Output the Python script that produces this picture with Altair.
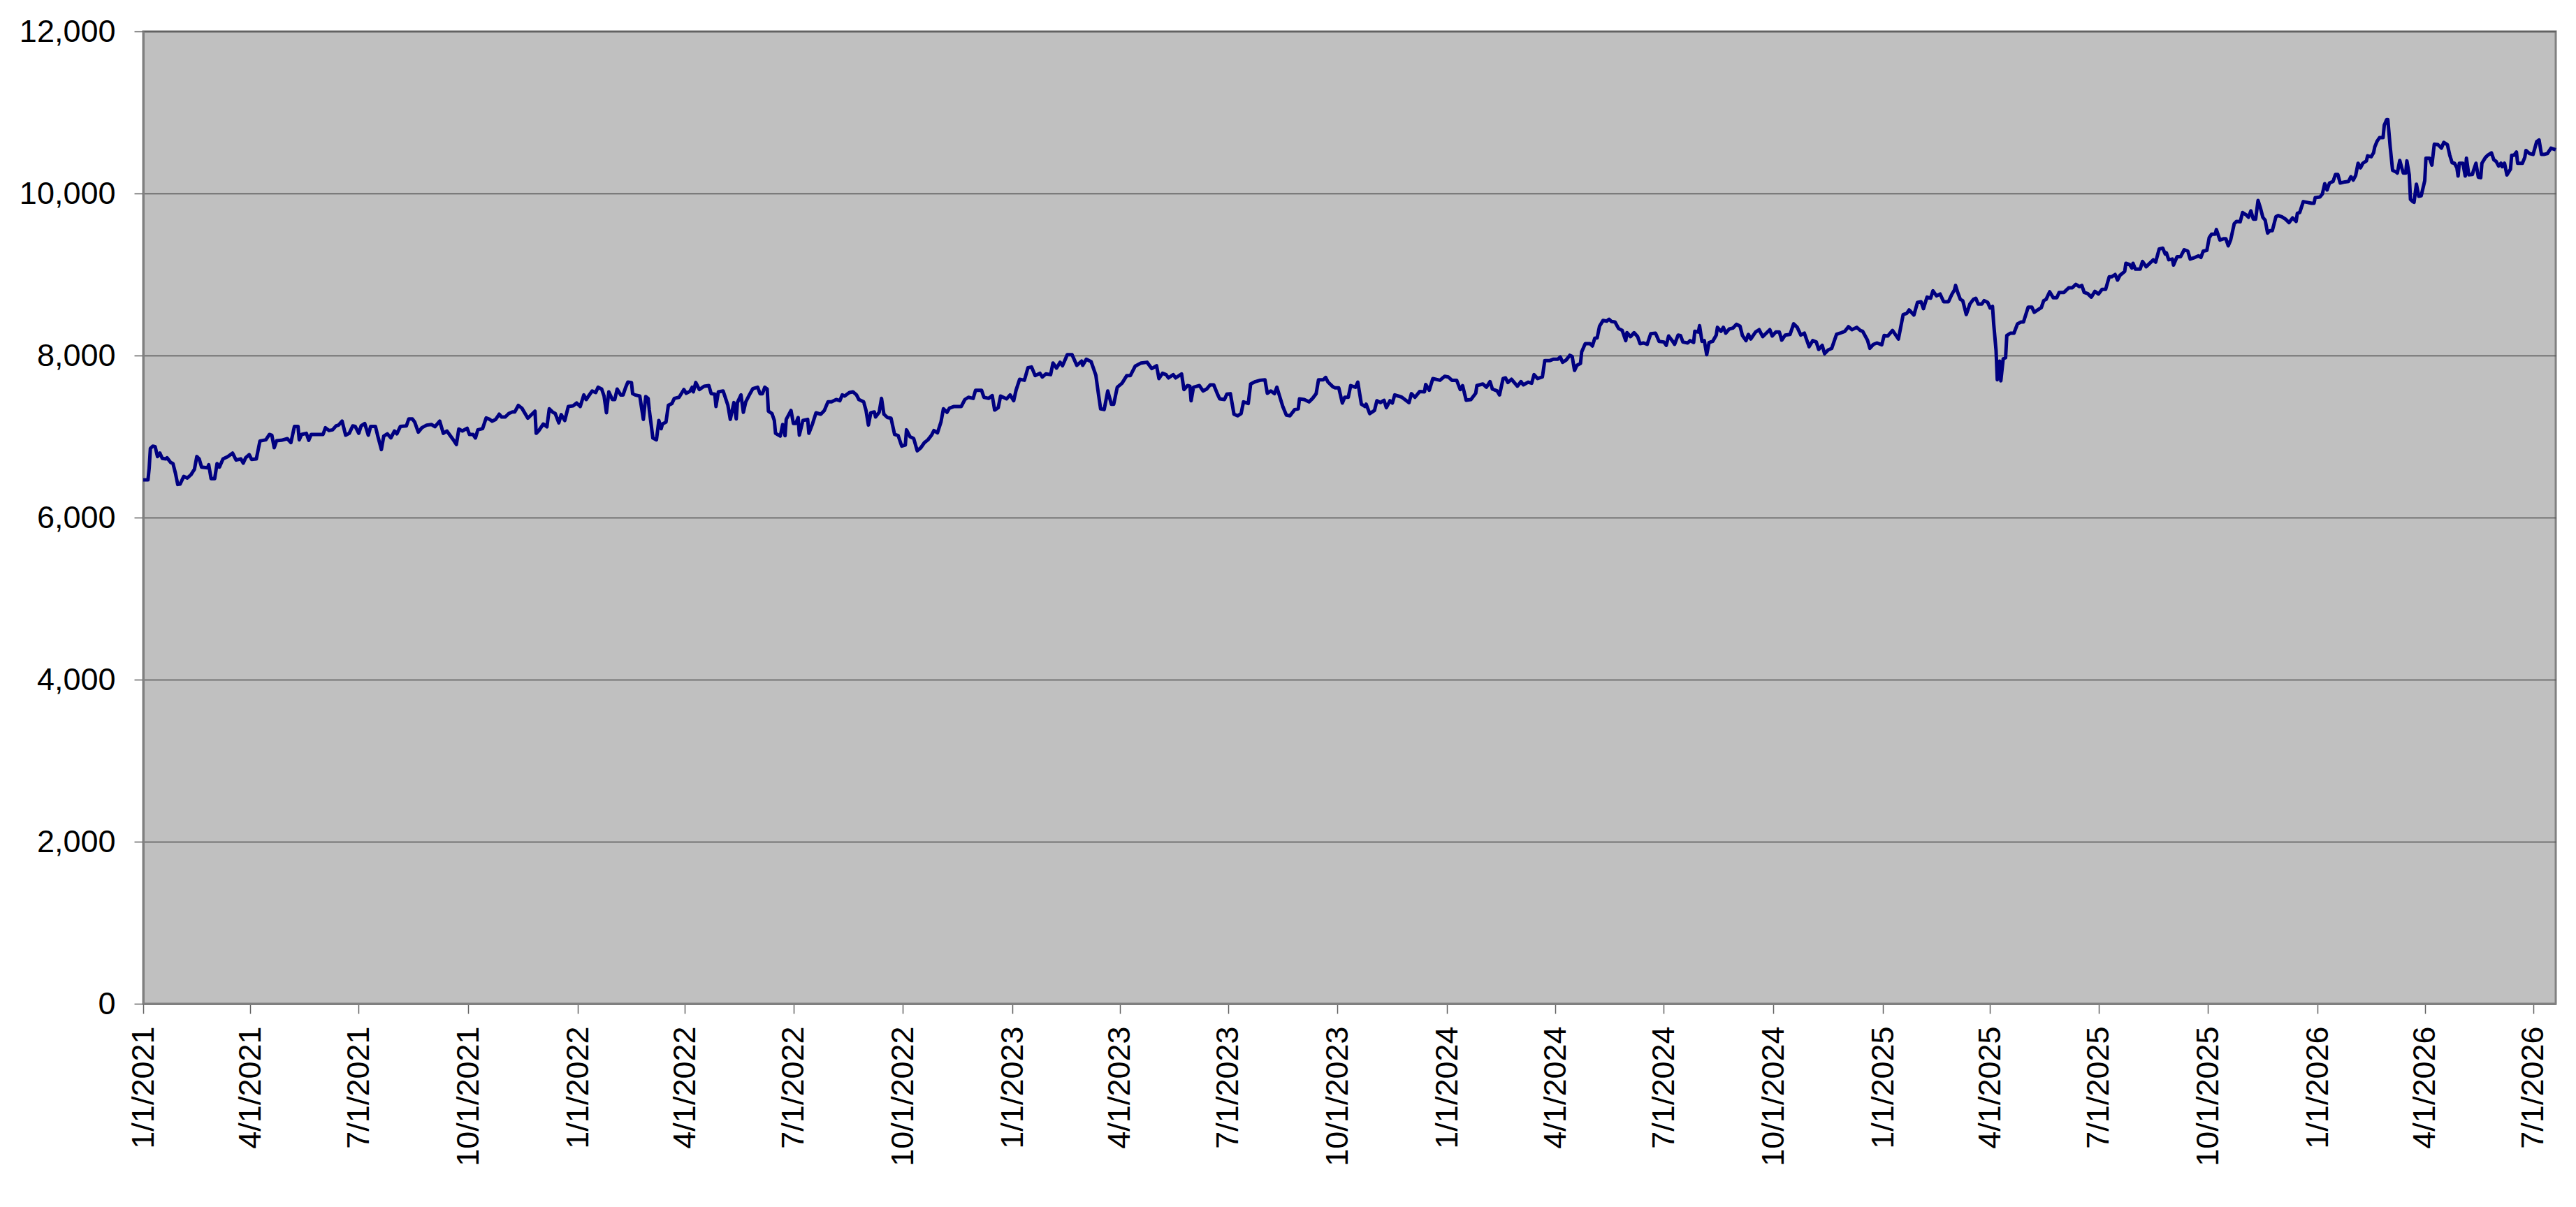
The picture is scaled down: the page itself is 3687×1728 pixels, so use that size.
import altair as alt
import pandas as pd

START = "2021-01-01"
END = "2026-07-20"

# day offsets from 1/1/2021 and values
days_a = [0,4,5,6,8,10,12,14,16,19,20,23,25,27,29,31,34,37,40,43,45,47,49,54,55,57,60,62,64,67,71,75,78,82,84,86,89,91,95,98,101,103,106,108,110,112,116,121,124,127,130,131,133,137,139,141,145,151,153,156,159,162,164,167,170,173,176,178,181,183,186,189,191,195,197,200,202,205,208,211,213,216,221,223,226,228,231,234,238,242,245,249,252,255,260,263,265,268,272,274,277,279,281,285,288,291,293,296,299,301,304,307,310,312,315,318,323,326,329,330,332,336]
vals_a = [6465,6465,6609,6853,6882,6876,6753,6796,6730,6724,6738,6681,6666,6551,6408,6414,6508,6488,6528,6595,6753,6724,6623,6615,6652,6480,6480,6666,6623,6724,6753,6796,6710,6724,6672,6738,6776,6718,6724,6945,6954,6960,7026,7017,6862,6948,6954,6974,6925,7126,7126,6960,7026,7040,6954,7026,7026,7026,7109,7074,7083,7132,7141,7190,7017,7040,7132,7126,7040,7132,7161,7017,7126,7126,7006,6839,7006,7034,6983,7069,7034,7126,7132,7218,7218,7178,7054,7109,7141,7149,7121,7190,7040,7069,6968,6902,7092,7069,7103,7026,7026,6983,7083,7098,7230,7212,7190,7212,7276,7241,7241,7284,7304,7304,7385,7350,7227,7270,7313,7040,7069,7155]

days_b = [339,341,344,346,349,351,354,357,361,364,367,370,372,374,377,380,382,385,387,389,391,394,396,398,401,403,405,407,410,411,413,417,420,422,424,425,428,431,433,435,436,439,441,444,446,450,454,456,459,461,462,464,467,471,475,477,480,481,483,487,491,493,496,498,499,502,504,506,509,512,516,518,520,522,524,525,528,530,531,535,537,539,540,544,546,548,550,551,554,558,559,562,565,569,572,575,578,582,585,587,589,593,596,599,601,605,607,609,611,614,615,618,620,622,625,628,631,634,637,640,641,644,647,650,653,656,659,662,664,667,670,672,675,677]
vals_b = [7120,7342,7299,7284,7169,7270,7198,7371,7379,7414,7371,7514,7457,7500,7563,7543,7609,7586,7500,7293,7552,7457,7457,7586,7514,7514,7601,7672,7667,7529,7514,7500,7212,7494,7471,7327,6982,6960,7198,7097,7155,7178,7385,7408,7471,7485,7580,7534,7557,7609,7552,7667,7580,7621,7629,7529,7523,7371,7552,7563,7385,7212,7419,7218,7419,7514,7299,7428,7514,7592,7609,7529,7529,7609,7586,7313,7284,7198,7040,7006,7149,7011,7212,7322,7161,7161,7235,7017,7198,7212,7040,7155,7293,7276,7322,7428,7428,7457,7442,7514,7500,7543,7552,7514,7457,7428,7322,7141,7293,7304,7241,7299,7471,7276,7235,7227,7026,7011,6882,6896,7083,6997,6977,6824,6862,6925,6960,7017,7074,7046,7184,7342,7299,7350]

days_c = [681,683,687,690,693,697,699,704,706,710,713,715,718,720,725,728,731,733,736,740,743,746,749,753,755,758,762,764,767,770,772,776,780,784,788,789,792,796,800,802,804,807,810,813,815,818,822,826,829,833,838,843,847,851,853,856,859,861,865,867,872,874,877,879,880,882,887,890,893,896,899,902,904,908,910,913,916,919,922,924,928,930,934,938,942,944,947,950,952,954,957,960,963,967,970,971,975,979,982,985,987,991,993,995,999,1001,1004,1007,1009,1012,1014,1018]
vals_c = [7371,7371,7371,7457,7485,7471,7572,7572,7485,7471,7506,7327,7356,7500,7465,7514,7442,7572,7707,7695,7850,7859,7753,7781,7735,7773,7764,7908,7845,7917,7874,8011,8011,7879,7931,7879,7954,7925,7758,7543,7342,7333,7563,7399,7399,7609,7658,7753,7753,7868,7908,7917,7839,7874,7716,7781,7764,7724,7764,7724,7773,7580,7629,7621,7442,7609,7629,7563,7586,7638,7638,7529,7465,7457,7523,7529,7276,7256,7284,7428,7408,7649,7678,7695,7701,7534,7563,7529,7609,7514,7371,7264,7256,7333,7342,7465,7457,7428,7471,7529,7701,7701,7730,7672,7615,7601,7601,7414,7485,7485,7629,7609]

days_d = [1020,1023,1026,1027,1030,1034,1036,1039,1042,1044,1047,1049,1051,1054,1057,1063,1065,1068,1072,1076,1077,1080,1083,1089,1093,1096,1099,1103,1106,1108,1111,1115,1119,1120,1125,1128,1131,1133,1137,1139,1142,1144,1146,1149,1154,1157,1159,1163,1166,1168,1171,1175,1177,1181,1184,1188,1190,1192,1195,1198,1200,1202,1204,1207,1208,1211,1215,1217,1219,1221,1223,1226,1229,1231,1233,1236,1239,1242,1245,1246,1249,1252,1255,1257,1260,1263,1266,1270,1273,1277,1279,1281,1284,1286,1289,1291,1293,1297,1299,1302,1303,1306,1307,1309,1311,1313,1315,1318,1321,1322,1325,1327,1329,1332,1335,1338,1341,1343,1346,1348,1350,1354,1357]
vals_d = [7672,7399,7371,7399,7284,7322,7442,7419,7448,7356,7442,7414,7514,7500,7485,7419,7529,7485,7557,7552,7643,7572,7716,7695,7744,7735,7695,7695,7580,7629,7448,7457,7534,7629,7649,7609,7678,7586,7563,7514,7716,7724,7667,7707,7621,7678,7638,7672,7658,7764,7716,7735,7937,7937,7954,7954,7983,7917,7945,8003,7989,7816,7879,7902,8046,8147,8147,8118,8213,8218,8362,8434,8425,8448,8420,8414,8333,8310,8184,8282,8233,8282,8233,8147,8155,8138,8270,8276,8175,8167,8126,8241,8184,8138,8253,8247,8167,8155,8184,8161,8299,8290,8368,8175,8184,8011,8161,8175,8253,8348,8299,8348,8276,8328,8339,8385,8362,8247,8184,8261,8204,8290,8319]

days_e = [1360,1363,1366,1368,1371,1374,1376,1379,1383,1386,1389,1392,1395,1399,1402,1405,1407,1410,1412,1415,1418,1422,1425,1429,1432,1435,1439,1442,1444,1448,1450,1453,1456,1460,1462,1465,1469,1472,1474,1478,1481,1483,1487,1490,1493,1495,1498,1501,1503,1506,1509,1512,1516,1519,1521,1522,1524,1526,1528,1531,1534,1537,1539,1541,1544,1546,1549,1551,1553,1554,1556,1557,1559,1560,1562,1564,1565,1568,1571,1574,1577,1579,1581,1583,1586,1588,1591,1594,1596,1598,1601,1604,1607,1609,1613,1617,1620,1623,1626,1628,1630,1633,1636,1639,1642,1645,1648,1651,1653,1656,1658,1660,1664,1665,1668,1670,1671,1673,1677,1679,1682,1684,1688,1690,1693,1696,1698]
vals_e = [8233,8276,8319,8241,8290,8290,8190,8253,8261,8391,8348,8253,8276,8109,8184,8167,8075,8126,8023,8069,8089,8261,8276,8299,8356,8319,8348,8310,8299,8190,8089,8138,8155,8132,8247,8241,8310,8247,8204,8506,8520,8563,8500,8655,8664,8578,8721,8707,8799,8736,8759,8664,8664,8759,8808,8865,8770,8693,8678,8506,8635,8693,8707,8635,8635,8678,8655,8586,8606,8391,8060,7701,7931,7687,7960,7974,8247,8276,8276,8391,8414,8414,8506,8598,8598,8534,8563,8592,8678,8693,8787,8713,8713,8779,8779,8836,8836,8879,8851,8865,8779,8764,8721,8793,8759,8816,8816,8971,8971,9000,8931,8989,9038,9138,9124,9081,9138,9066,9066,9161,9095,9124,9181,9153,9316,9325,9253]

days_f = [1699,1701,1704,1705,1708,1711,1714,1717,1719,1723,1726,1728,1730,1733,1735,1737,1740,1741,1744,1747,1749,1751,1753,1756,1758,1761,1763,1766,1768,1770,1772,1774,1776,1778,1780,1782,1784,1786,1788,1791,1793,1796,1799,1802,1805,1808,1809,1811,1814,1817,1821,1823,1824,1828,1830,1832,1834,1836,1839,1841,1843,1845,1849,1852,1854,1856,1858,1860,1862,1864,1867,1868,1871,1873,1874,1876,1878,1881,1882,1884,1885,1887,1889,1892,1893,1895,1897,1898,1900,1901,1903,1904,1906,1907,1909,1911,1913,1916,1917,1920,1922,1924,1927,1930,1932,1935,1937,1939,1941,1943,1944,1945,1948,1950,1951,1953,1956,1957,1959,1961,1963,1964,1967,1969,1972,1974,1976,1978,1980,1981,1983,1985,1988,1989,1991,1993,1994,1998,2000,2001,2004,2007,2010,2012,2014,2016,2019,2022,2026]
vals_f = [9268,9182,9191,9116,9220,9220,9306,9289,9191,9211,9231,9211,9289,9297,9455,9498,9498,9555,9426,9441,9441,9355,9426,9627,9656,9650,9765,9736,9707,9785,9684,9684,9914,9822,9707,9670,9512,9541,9541,9713,9728,9713,9684,9641,9699,9656,9756,9765,9900,9891,9880,9880,9948,9957,9994,10121,10043,10129,10149,10235,10235,10129,10143,10149,10207,10166,10224,10373,10316,10373,10402,10465,10453,10502,10574,10646,10689,10689,10842,10911,10911,10573,10287,10264,10252,10407,10301,10252,10252,10402,10229,9928,9900,9891,10115,9966,9971,10158,10436,10436,10350,10608,10603,10560,10631,10603,10473,10379,10373,10316,10215,10373,10373,10215,10436,10230,10235,10287,10373,10201,10195,10373,10445,10473,10502,10416,10396,10339,10373,10330,10373,10229,10301,10473,10473,10511,10373,10373,10445,10531,10493,10482,10640,10660,10482,10482,10493,10560,10540]

tick_dates = ["2021-01-01", "2021-04-01", "2021-07-01", "2021-10-01",
              "2022-01-01", "2022-04-01", "2022-07-01", "2022-10-01",
              "2023-01-01", "2023-04-01", "2023-07-01", "2023-10-01",
              "2024-01-01", "2024-04-01", "2024-07-01", "2024-10-01",
              "2025-01-01", "2025-04-01", "2025-07-01", "2025-10-01",
              "2026-01-01", "2026-04-01", "2026-07-01"]
y_ticks = [0, 2000, 4000, 6000, 8000, 10000, 12000]

days = days_a + days_b + days_c + days_d + days_e + days_f
vals = vals_a + vals_b + vals_c + vals_d + vals_e + vals_f

start = pd.Timestamp(START)
df = pd.DataFrame({
    "date": [(start + pd.Timedelta(days=d)).strftime("%Y-%m-%d") for d in days],
    "value": vals,
})


def ms(s):
    return int(pd.Timestamp(s, tz="UTC").timestamp() * 1000)


FONT = "Liberation Sans"

x_axis = alt.Axis(
    values=[ms(t) for t in tick_dates],
    labelExpr="(utcmonth(datum.value)+1) + '/' + utcdate(datum.value) + '/' + utcyear(datum.value)",
    labelAngle=270,
    labelFont=FONT,
    labelFontSize=45,
    labelColor="#000000",
    labelPadding=18,
    labelOverlap=False,
    labelFlush=False,
    labelBound=False,
    labelLimit=0,
    tickSize=14,
    tickColor="#606060",
    tickWidth=1.5,
    domainColor="#808080",
    domainWidth=3,
    grid=False,
    title=None,
)

y_axis = alt.Axis(
    values=y_ticks,
    format=",.0f",
    labelFont=FONT,
    labelFontSize=45,
    labelColor="#000000",
    labelPadding=27,
    labelFlush=False,
    labelLimit=0,
    tickSize=13,
    tickColor="#606060",
    tickWidth=1.5,
    domainColor="#808080",
    domainWidth=3,
    grid=True,
    gridColor="#555555",
    gridWidth=1.5,
    title=None,
)

chart = alt.Chart(df).mark_line(
    color="#000080", strokeWidth=5, strokeJoin="round"
).encode(
    x=alt.X("date:T", scale=alt.Scale(type="utc", domain=[ms(START), ms(END)]), axis=x_axis),
    y=alt.Y("value:Q", scale=alt.Scale(domain=[0, 12000], nice=False), axis=y_axis),
).properties(
    width=3453,
    height=1392,
    padding={"left": 197, "top": 37, "right": 10, "bottom": 270},
    autosize=alt.AutoSizeParams(type="none"),
    background="#ffffff",
).configure_view(
    fill="#C0C0C0",
    stroke="#808080",
    strokeWidth=3,
)

chart.save("out.html", embed_options={"renderer": "svg", "actions": False})
